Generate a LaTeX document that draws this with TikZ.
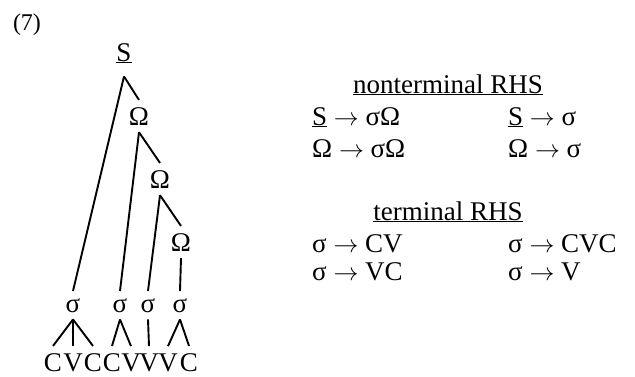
\documentclass[tikz,border=0pt]{standalone}
\usepackage{fontspec}
\setmainfont{Liberation Serif}
\usetikzlibrary{positioning}

\begin{document}
\begin{tikzpicture}[
    x=1pt, y=-1pt,
    font=\fontsize{27}{32}\selectfont,
    % Styles
    treelabel/.style={inner sep=7pt, anchor=base},
    segment/.style={inner sep=7pt, anchor=base},
    heading/.style={inner sep=0pt, anchor=base},
    rulerow/.style={inner sep=0pt, anchor=base west},
    branch/.style={line width=1.9pt}
]
\useasboundingbox (0,0) rectangle (635,376);

% ==================== EXAMPLE NUMBER ====================
\node[inner sep=0pt, anchor=base, font=\fontsize{24}{28}\selectfont] (num) at (27,30) {(7)};

% ==================== TREE ====================
\node[treelabel, inner ysep=13pt] (S) at (124,61) {\underline{S}};
\node[treelabel] (O1) at (139,125) {Ω};
\node[treelabel] (O2) at (160,188) {Ω};
\node[treelabel] (O3) at (181,251) {Ω};

\node[treelabel] (s1) at (73,312) {σ};
\node[treelabel] (s2) at (120,312) {σ};
\node[treelabel] (s3) at (148,312) {σ};
\node[treelabel] (s4) at (180,312) {σ};

\node[segment] (c1) at (53,371) {C};
\node[segment] (c2) at (73,371) {V};
\node[segment] (c3) at (93,371) {C};
\node[segment] (c4) at (112,371) {C};
\node[segment] (c5) at (131,371) {V};
\node[segment] (c6) at (149,371) {V};
\node[segment] (c7) at (168,371) {V};
\node[segment] (c8) at (189,371) {C};

\draw[branch] (S.south) -- (s1.north);
\draw[branch] (S.south) -- (O1.north);
\draw[branch] (O1.south) -- (s2.north);
\draw[branch] (O1.south) -- (O2.north);
\draw[branch] (O2.south) -- (s3.north);
\draw[branch] (O2.south) -- (O3.north);
\draw[branch] (O3.south) -- (s4.north);

\draw[branch] (s1.south) -- (c1.north);
\draw[branch] (s1.south) -- (c2.north);
\draw[branch] (s1.south) -- (c3.north);
\draw[branch] (s2.south) -- (c4.north);
\draw[branch] (s2.south) -- (c5.north);
\draw[branch] (s3.south) -- (c6.north);
\draw[branch] (s4.south) -- (c7.north);
\draw[branch] (s4.south) -- (c8.north);

% ==================== NONTERMINAL RULES ====================
\node[heading] (nonterm) at (448,93) {\underline{nonterminal RHS}};
\node[rulerow] (r1) at (312,125) {\underline{S} $\rightarrow$ σΩ};
\node[rulerow] (r2) at (508,125) {\underline{S} $\rightarrow$ σ};
\node[rulerow] (r3) at (312,157) {Ω $\rightarrow$ σΩ};
\node[rulerow] (r4) at (508,157) {Ω $\rightarrow$ σ};

% ==================== TERMINAL RULES ====================
\node[heading] (term) at (448,220) {\underline{terminal RHS}};
\node[rulerow] (t1) at (312,252) {σ $\rightarrow$ CV};
\node[rulerow] (t2) at (508,252) {σ $\rightarrow$ CVC};
\node[rulerow] (t3) at (312,280) {σ $\rightarrow$ VC};
\node[rulerow] (t4) at (508,280) {σ $\rightarrow$ V};

\end{tikzpicture}
\end{document}
